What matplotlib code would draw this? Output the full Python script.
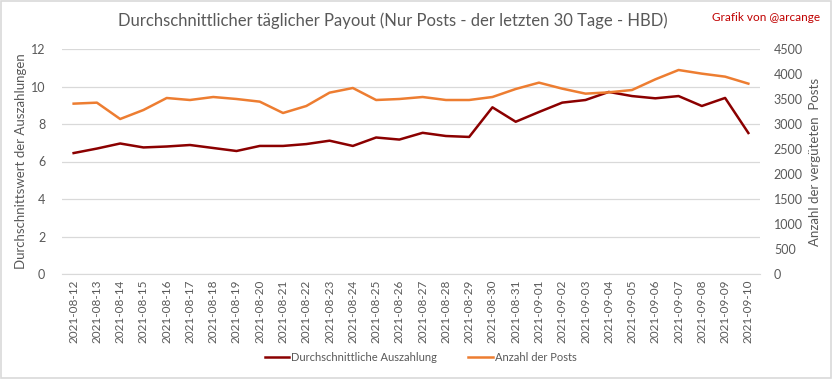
import matplotlib
matplotlib.use("Agg")
import matplotlib.pyplot as plt
import pandas as pd

dates = pd.date_range("2021-08-12", "2021-09-10").strftime("%Y-%m-%d").tolist()

avg_payout = [6.45, 6.69, 6.96, 6.75, 6.80, 6.88, 6.72, 6.56, 6.83, 6.83,
              6.93, 7.11, 6.83, 7.28, 7.17, 7.53, 7.36, 7.31, 8.89, 8.12,
              8.64, 9.14, 9.28, 9.71, 9.49, 9.37, 9.49, 8.96, 9.39, 7.52]
num_posts = [3407, 3427, 3100, 3280, 3520, 3480, 3540, 3500, 3447, 3220,
             3360, 3627, 3720, 3480, 3500, 3540, 3480, 3480, 3540, 3700,
             3827, 3707, 3607, 3633, 3680, 3893, 4080, 4007, 3947, 3807]

RED = "#8B0000"
ORANGE = "#ED7D31"
GRAY = "#595959"
GRID = "#D9D9D9"

plt.rcParams["font.family"] = ["Lato", "DejaVu Sans"]

fig = plt.figure(figsize=(8.33, 3.79), dpi=100)
ax = fig.add_axes([62 / 833, 1 - 274 / 379, (760 - 62) / 833, (274 - 49) / 379])
ax2 = ax.twinx()

x = range(len(dates))
l1, = ax.plot(x, avg_payout, color=RED, lw=1.8, label="Durchschnittliche Auszahlung")
l2, = ax2.plot(x, num_posts, color=ORANGE, lw=1.8, label="Anzahl der Posts")

ax.set_ylim(0, 12)
ax.set_yticks(range(0, 13, 2))
ax2.set_ylim(0, 4500)
ax2.set_yticks(range(0, 4501, 500))
ax.set_xlim(-0.5, len(dates) - 0.5)
ax.set_xticks(list(x))
ax.set_xticklabels(dates, rotation=90)

ax.grid(axis="y", color=GRID, lw=0.9)
ax.set_axisbelow(True)
for a in (ax, ax2):
    for s in a.spines.values():
        s.set_visible(False)
    a.tick_params(length=0, colors=GRAY, labelsize=9)
ax.spines["bottom"].set_visible(True)
ax.spines["bottom"].set_color(GRID)
ax.tick_params(axis="y", pad=12)
ax2.tick_params(axis="y", pad=10)
ax.tick_params(axis="x", labelsize=8.5, pad=4)

ax.set_ylabel("Durchschnittswert der Auszahlungen", color=GRAY, fontsize=9.5, labelpad=5)
ax2.set_ylabel("Anzahl der vergüteten  Posts", color=GRAY, fontsize=9.5, rotation=90, labelpad=4)
ax.yaxis.set_label_coords(-0.05, 0.5)

fig.text(0.471, 0.945, "Durchschnittlicher täglicher Payout (Nur Posts - der letzten 30 Tage - HBD)",
         ha="center", va="center", fontsize=12, color=GRAY)
fig.text(0.985, 0.955, "Grafik von @arcange", ha="right", va="center", fontsize=8.5, color="#C00000")

fig.legend(handles=[l1, l2], loc="center", bbox_to_anchor=(0.505, 0.058), ncol=2,
           frameon=False, fontsize=8, labelcolor=GRAY, handlelength=2.2,
           handletextpad=0.2, columnspacing=2.8)

border = plt.Rectangle((0.001, 0.002), 0.997, 0.995, transform=fig.transFigure,
                       fill=False, edgecolor="#D9D9D9", lw=1.2)
fig.patches.append(border)

fig.savefig("out.png", dpi=100)
